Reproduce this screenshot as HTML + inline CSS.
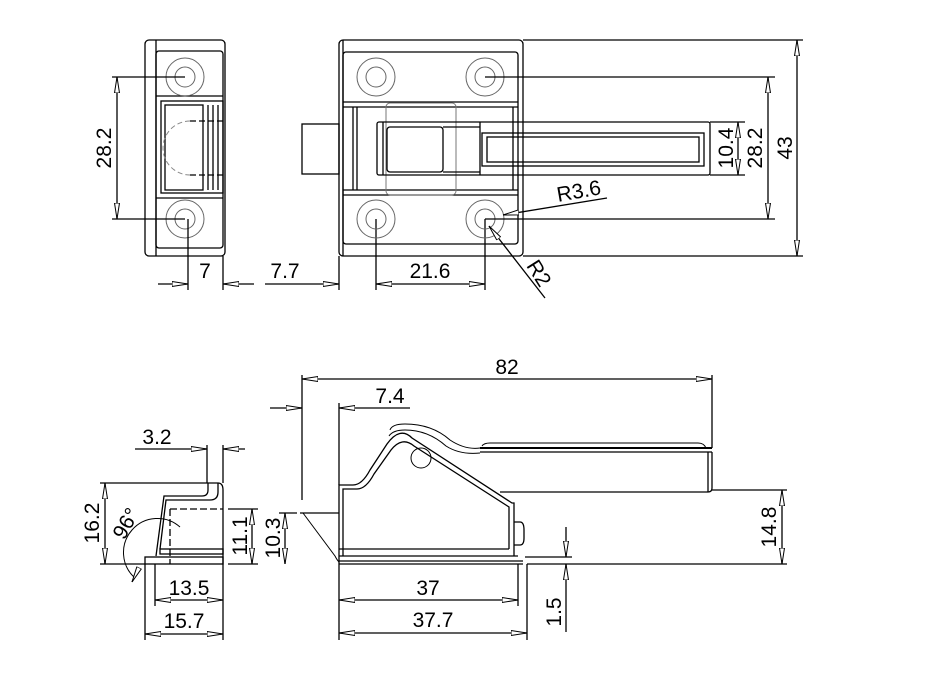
<!DOCTYPE html>
<html><head><meta charset="utf-8"><style>
html,body{margin:0;padding:0;background:#fff;}
svg{display:block;}
text{font-family:"Liberation Sans",sans-serif;font-size:21px;fill:#000;}
</style></head><body>
<svg width="937" height="674" viewBox="0 0 937 674" xmlns="http://www.w3.org/2000/svg">
<defs>
<marker id="a" viewBox="0 0 16 8" refX="16" refY="4" markerWidth="16" markerHeight="8" markerUnits="userSpaceOnUse" orient="auto">
<path d="M0,1.5 L16,4 L0,6.5 Z" fill="#fff" stroke="#000" stroke-width="1"/>
</marker>
</defs>
<g fill="none" stroke="#000" stroke-width="1.3">
<!-- TOP LEFT VIEW -->
<rect x="145" y="40" width="80" height="216" rx="4"/>
<line x1="156" y1="40" x2="156" y2="256"/>
<rect x="156" y="51" width="67" height="197" rx="3"/>
<line x1="156" y1="96" x2="223" y2="96"/>
<line x1="156" y1="198" x2="223" y2="198"/>
<rect x="161" y="101" width="62" height="92"/>
<rect x="165" y="105" width="38" height="85"/>
<line x1="208" y1="105" x2="208" y2="190"/><line x1="213" y1="105" x2="213" y2="190"/><line x1="218" y1="105" x2="218" y2="190"/>
<path d="M190,121 A27,27 0 0 0 190,175" stroke="#888" stroke-dasharray="5,3" stroke-width="1"/>
<line x1="190" y1="121" x2="223" y2="121" stroke-dasharray="6,3"/>
<line x1="190" y1="175" x2="223" y2="175" stroke-dasharray="6,3"/>
<g stroke="#666" stroke-width="1"><circle cx="185" cy="77" r="19"/><circle cx="185" cy="77" r="10"/><circle cx="185" cy="219" r="19"/><circle cx="185" cy="219" r="10"/></g>
<line x1="112" y1="77" x2="185" y2="77"/><line x1="112" y1="219" x2="185" y2="219"/>
<line x1="117" y1="148" x2="117" y2="77" marker-end="url(#a)"/><line x1="117" y1="148" x2="117" y2="219" marker-end="url(#a)"/>
<line x1="188" y1="219" x2="188" y2="290"/><line x1="223" y1="256" x2="223" y2="290"/>
<line x1="158" y1="284" x2="188" y2="284" marker-end="url(#a)"/><line x1="254" y1="284" x2="223" y2="284" marker-end="url(#a)"/>
<line x1="339" y1="256" x2="339" y2="290"/><line x1="376" y1="219" x2="376" y2="290"/><line x1="485" y1="219" x2="485" y2="290"/>
<line x1="265" y1="284" x2="339" y2="284" marker-end="url(#a)"/>
<line x1="430" y1="284" x2="376" y2="284" marker-end="url(#a)"/><line x1="430" y1="284" x2="485" y2="284" marker-end="url(#a)"/>

<!-- TOP MAIN VIEW -->
<rect x="339" y="40" width="184" height="216" rx="4"/>
<line x1="343" y1="40" x2="343" y2="256"/>
<rect x="343" y="52" width="175" height="192" rx="3"/>
<line x1="343" y1="102" x2="518" y2="102"/><line x1="343" y1="107" x2="518" y2="107"/>
<line x1="343" y1="190" x2="518" y2="190"/><line x1="343" y1="195" x2="518" y2="195"/>
<line x1="353" y1="107" x2="353" y2="190"/><line x1="357" y1="107" x2="357" y2="190"/>
<line x1="513" y1="107" x2="513" y2="190"/>
<rect x="386" y="103" width="70" height="92" rx="4" stroke="#777" stroke-width="1"/>
<rect x="302" y="124" width="37" height="50"/>
<rect x="377" y="122" width="333" height="53" rx="2"/>
<line x1="383" y1="122" x2="383" y2="175"/>
<rect x="387" y="127" width="56" height="45" rx="3"/>
<line x1="443" y1="127" x2="480" y2="127"/><line x1="443" y1="172" x2="480" y2="172"/>
<line x1="480" y1="122" x2="480" y2="175"/>
<rect x="482" y="133" width="222" height="33"/>
<rect x="487" y="137" width="212" height="25"/>
<g stroke="#666" stroke-width="1">
<circle cx="376" cy="77" r="19"/><circle cx="376" cy="77" r="10"/>
<circle cx="485" cy="77" r="19"/><circle cx="485" cy="77" r="10"/>
<circle cx="376" cy="219" r="19"/><circle cx="376" cy="219" r="10"/>
<circle cx="485" cy="219" r="19"/><circle cx="485" cy="219" r="10"/></g>
<line x1="523" y1="40" x2="803" y2="40"/><line x1="523" y1="256" x2="803" y2="256"/>
<line x1="485" y1="77" x2="775" y2="77"/><line x1="485" y1="219" x2="775" y2="219"/>
<line x1="797" y1="148" x2="797" y2="40" marker-end="url(#a)"/><line x1="797" y1="148" x2="797" y2="256" marker-end="url(#a)"/>
<line x1="768" y1="148" x2="768" y2="77" marker-end="url(#a)"/><line x1="768" y1="148" x2="768" y2="219" marker-end="url(#a)"/>
<line x1="710" y1="122" x2="745" y2="122"/><line x1="710" y1="175" x2="745" y2="175"/>
<line x1="738" y1="148" x2="738" y2="122" marker-end="url(#a)"/><line x1="738" y1="148" x2="738" y2="175" marker-end="url(#a)"/>
<line x1="607" y1="198" x2="503" y2="215" marker-end="url(#a)"/>
<line x1="545" y1="298" x2="489" y2="226" marker-end="url(#a)"/>

<!-- BOTTOM LEFT SIDE VIEW -->
<path d="M208,483 L208,490 Q208,496 202,496 L164,496 L156,556"/>
<path d="M218,483 L218,492 Q218,500 210,500 L166,500 L160,549"/>
<path d="M208,483 L218,483 Q223,483 223,490 L223,564"/>
<line x1="170" y1="509" x2="223" y2="509" stroke-dasharray="7,3"/>
<line x1="170" y1="509" x2="170" y2="564" stroke-dasharray="7,3"/>
<rect x="160" y="549" width="63" height="5"/>
<rect x="145" y="557" width="78" height="7"/>
<path d="M180,527 A25,25 0 1 0 135,578" stroke-width="1"/>
<line x1="137" y1="572" x2="132" y2="582" marker-end="url(#a)"/>
<line x1="100" y1="483" x2="208" y2="483"/><line x1="100" y1="564" x2="145" y2="564"/>
<line x1="105" y1="523" x2="105" y2="483" marker-end="url(#a)"/><line x1="105" y1="523" x2="105" y2="564" marker-end="url(#a)"/>
<line x1="207" y1="445" x2="207" y2="483"/><line x1="223" y1="445" x2="223" y2="483"/>
<line x1="135" y1="449" x2="207" y2="449" marker-end="url(#a)"/><line x1="245" y1="449" x2="223" y2="449" marker-end="url(#a)"/>
<line x1="228" y1="509" x2="258" y2="509"/><line x1="228" y1="564" x2="258" y2="564"/>
<line x1="252" y1="536" x2="252" y2="509" marker-end="url(#a)"/><line x1="252" y1="536" x2="252" y2="564" marker-end="url(#a)"/>
<line x1="145" y1="564" x2="145" y2="640"/><line x1="155" y1="564" x2="155" y2="606"/><line x1="223" y1="564" x2="223" y2="640"/>
<line x1="189" y1="600" x2="155" y2="600" marker-end="url(#a)"/><line x1="189" y1="600" x2="223" y2="600" marker-end="url(#a)"/>
<line x1="184" y1="634" x2="145" y2="634" marker-end="url(#a)"/><line x1="184" y1="634" x2="223" y2="634" marker-end="url(#a)"/>

<!-- BOTTOM MAIN SIDE VIEW -->
<path d="M339,564 L339,485 L353,485 Q362,485 370,470 L387,444 Q400,426 412,438 L512,503 L514,503 L514,556"/>
<path d="M343,556 L343,489 L357,489 Q366,489 374,474 L391,450 Q402,436 414,446 L509,507 L509,549"/>
<path d="M390,430 Q392,424 405,424 Q432,424 450,440 Q465,450 480,448" stroke-width="1"/>
<path d="M389,436 Q393,430 405,430 Q428,430 446,446 Q460,455 480,453" stroke-width="1"/>
<circle cx="421" cy="458" r="10" stroke-width="1"/>
<line x1="339" y1="549" x2="509" y2="549"/>
<line x1="339" y1="556" x2="518" y2="556"/>
<line x1="339" y1="561" x2="523" y2="561"/>
<line x1="339" y1="564" x2="523" y2="564"/>
<path d="M514,522 L520,522 Q524,522 524,530 L524,538 Q524,545 520,545 L514,545"/>
<path d="M482,446 Q484,443 490,443 L698,443 Q704,443 706,448" stroke-width="1"/>
<line x1="480" y1="448" x2="712" y2="448" stroke-width="2"/>
<line x1="480" y1="452" x2="712" y2="452"/>
<path d="M712,452 L712,488 Q712,492 708,492 L500,492"/>
<line x1="708" y1="452" x2="708" y2="492"/>
<line x1="300" y1="513" x2="339" y2="513"/>
<path d="M303,513 L335,556 Q337,560 339,562" stroke-width="1"/>
<line x1="302" y1="375" x2="302" y2="500"/><line x1="712" y1="375" x2="712" y2="448"/>
<line x1="507" y1="379" x2="302" y2="379" marker-end="url(#a)"/><line x1="507" y1="379" x2="712" y2="379" marker-end="url(#a)"/>
<line x1="339" y1="403" x2="339" y2="485"/>
<line x1="270" y1="408" x2="302" y2="408" marker-end="url(#a)"/><line x1="410" y1="408" x2="339" y2="408" marker-end="url(#a)"/>
<line x1="279" y1="513" x2="297" y2="513"/>
<line x1="285" y1="538" x2="285" y2="513" marker-end="url(#a)"/><line x1="285" y1="538" x2="285" y2="564" marker-end="url(#a)"/>
<line x1="712" y1="490" x2="787" y2="490"/><line x1="527" y1="564" x2="787" y2="564"/>
<line x1="782" y1="527" x2="782" y2="490" marker-end="url(#a)"/><line x1="782" y1="527" x2="782" y2="564" marker-end="url(#a)"/>
<line x1="525" y1="557" x2="572" y2="557"/>
<line x1="566" y1="527" x2="566" y2="557" marker-end="url(#a)"/><line x1="566" y1="632" x2="566" y2="564" marker-end="url(#a)"/>
<line x1="339" y1="564" x2="339" y2="640"/><line x1="518" y1="564" x2="518" y2="606"/><line x1="527" y1="564" x2="527" y2="640"/>
<line x1="428" y1="600" x2="339" y2="600" marker-end="url(#a)"/><line x1="428" y1="600" x2="518" y2="600" marker-end="url(#a)"/>
<line x1="433" y1="633" x2="339" y2="633" marker-end="url(#a)"/><line x1="433" y1="633" x2="527" y2="633" marker-end="url(#a)"/>
</g>
<g>
<text transform="translate(111,148) rotate(-90)" text-anchor="middle">28.2</text>
<text x="205" y="278" text-anchor="middle">7</text>
<text x="285" y="278" text-anchor="middle">7.7</text>
<text x="430" y="278" text-anchor="middle">21.6</text>
<text transform="translate(733,148) rotate(-90)" text-anchor="middle">10.4</text>
<text transform="translate(762,148) rotate(-90)" text-anchor="middle">28.2</text>
<text transform="translate(792,148) rotate(-90)" text-anchor="middle">43</text>
<text transform="translate(580,198) rotate(-10)" text-anchor="middle">R3.6</text>
<text transform="translate(533,277) rotate(58)" text-anchor="middle">R2</text>
<text x="507" y="374" text-anchor="middle">82</text>
<text x="390" y="403" text-anchor="middle">7.4</text>
<text x="157" y="444" text-anchor="middle">3.2</text>
<text transform="translate(99,523) rotate(-90)" text-anchor="middle">16.2</text>
<text transform="translate(132,527) rotate(-60)" text-anchor="middle">96°</text>
<text transform="translate(247,536) rotate(-90)" text-anchor="middle">11.1</text>
<text transform="translate(280,538) rotate(-90)" text-anchor="middle">10.3</text>
<text x="189" y="595" text-anchor="middle">13.5</text>
<text x="184" y="628" text-anchor="middle">15.7</text>
<text x="428" y="595" text-anchor="middle">37</text>
<text x="433" y="627" text-anchor="middle">37.7</text>
<text transform="translate(776,527) rotate(-90)" text-anchor="middle">14.8</text>
<text transform="translate(561,612) rotate(-90)" text-anchor="middle">1.5</text>
</g>
</svg>
</body></html>
